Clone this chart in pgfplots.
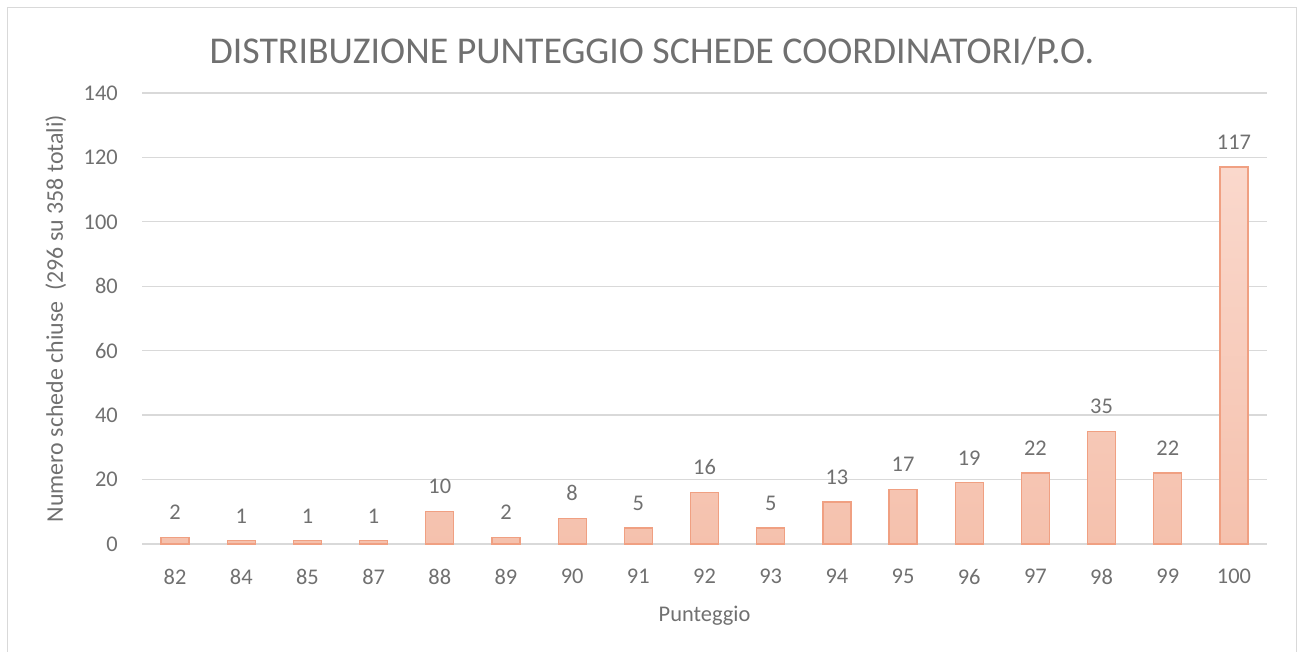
\documentclass[border=0pt]{standalone}
\usepackage{fontspec}
\setmainfont{Carlito}
\usepackage{pgfplots}
\pgfplotsset{compat=1.18}
\definecolor{txt}{RGB}{112,112,112}
\definecolor{gridc}{RGB}{217,217,217}
\definecolor{framec}{RGB}{217,217,217}
\definecolor{bartop}{RGB}{250,216,204}
\definecolor{barbot}{RGB}{245,193,173}
\definecolor{barline}{RGB}{240,160,130}
\begin{document}
\begin{tikzpicture}[x=1bp,y=1bp]
\useasboundingbox (0,0) rectangle (1298,652);
\draw[framec, line width=1.5bp] (7.5,-5) -- (7.5,644.5) -- (1296.5,644.5) -- (1296.5,-5);
\begin{axis}[
  at={(142bp,108bp)}, anchor=south west,
  width=1125bp, height=451bp, scale only axis,
  /pgf/number format/assume math mode=true,
  ymin=0, ymax=140, ytick={0,20,...,140},
  xmin=-0.5, xmax=16.5, xtick=data,
  xticklabels={82,84,85,87,88,89,90,91,92,93,94,95,96,97,98,99,100},
  axis line style={draw=none},
  major tick length=0pt,
  ymajorgrids, grid style={gridc, line width=1.3bp},
  tick label style={font=\fontsize{22.5}{26}\selectfont, text=txt, inner sep=0pt},
  yticklabel style={anchor=east, xshift=-24bp},
  xticklabel style={anchor=north, yshift=-25bp},
  ybar, bar width=28bp,
  nodes near coords,
  every node near coord/.append style={font=\fontsize{22.5}{26}\selectfont, text=txt, inner sep=0pt, anchor=south, yshift=17bp},
  title={DISTRIBUZIONE PUNTEGGIO SCHEDE COORDINATORI/P.O.},
  title style={at={(rel axis cs:0.4533,1)}, anchor=base, yshift=24bp, font=\fontsize{38}{44}\selectfont, text=txt, inner sep=0pt},
  xlabel={Punteggio},
  xlabel style={at={(rel axis cs:0.5,0)}, anchor=base, yshift=-78bp, font=\fontsize{22.5}{26}\selectfont, text=txt, inner sep=0pt},
  ylabel={Numero schede chiuse\ \ (296 su 358 totali)},
  ylabel style={at={(rel axis cs:0,0.5)}, rotate=0, anchor=base, yshift=79bp, font=\fontsize{24}{28}\selectfont, text=txt, inner sep=0pt},
  clip=false,
]
\addplot[draw=barline, line width=1.3bp, top color=bartop, bottom color=barbot] coordinates {
(0,2) (1,1) (2,1) (3,1) (4,10) (5,2) (6,8) (7,5) (8,16) (9,5) (10,13) (11,17) (12,19) (13,22) (14,35) (15,22) (16,117)
};
\end{axis}
\end{tikzpicture}
\end{document}
